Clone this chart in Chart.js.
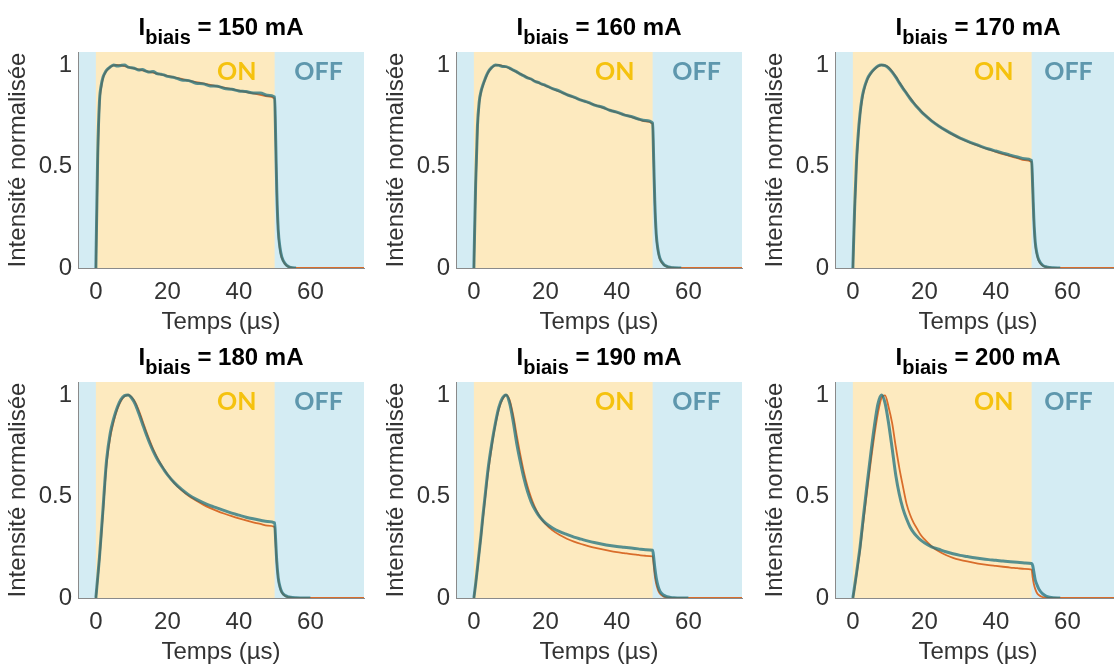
<!DOCTYPE html>
<html lang="fr">
<head>
<meta charset="utf-8">
<script src="https://cdn.jsdelivr.net/npm/chart.js@4.4.1/dist/chart.umd.min.js"></script>
<style>
  html, body { margin: 0; padding: 0; background: #fff; overflow: hidden; }
  body { width: 1114px; height: 666px; position: relative; }
  canvas { position: absolute; }
</style>
</head>
<body>
<script>
// Temps (µs) commun à toutes les courbes
const temps = [0, 0.5, 1, 1.5, 2, 2.5, 3,
  4, 5, 6, 7, 8, 9, 10, 11, 12, 13, 14, 15, 16, 17, 18, 19, 20,
  22, 24, 26, 28, 30, 32, 34, 36, 38, 40, 42, 44, 46, 48, 50,
  50.3, 50.6, 51, 51.5, 52, 53, 54, 55, 56, 58, 60,
  65, 70, 75];

const courants = [150, 160, 170, 180, 190, 200];

// Intensité normalisée mesurée (bleu) et modèle (orange)
const mesure150 = [0, 0.55, 0.82, 0.9, 0.94, 0.96, 0.975,
  0.99, 1.0, 0.995, 0.998, 1.0, 0.99, 0.986, 0.982, 0.975, 0.978, 0.97, 0.965, 0.968, 0.958, 0.955, 0.951, 0.944,
  0.938, 0.926, 0.923, 0.91, 0.907, 0.897, 0.895, 0.884, 0.881, 0.872, 0.869, 0.862, 0.862, 0.851, 0.843,
  0.63, 0.38, 0.19, 0.1, 0.055, 0.02, 0.006, 0.001, 0, null, null,
  null, null, null];
const modele150 = [0, 0.5, 0.8, 0.89, 0.935, 0.958, 0.972,
  0.99, 0.998, 1.0, 0.998, 0.994, 0.99, 0.986, 0.982, 0.978, 0.974, 0.97, 0.966, 0.962, 0.958, 0.954, 0.95, 0.946,
  0.939, 0.931, 0.923, 0.916, 0.909, 0.902, 0.895, 0.888, 0.881, 0.874, 0.867, 0.86, 0.853, 0.846, 0.835,
  0.62, 0.37, 0.18, 0.09, 0.05, 0.018, 0.005, 0.001, 0, 0, 0,
  0, 0, 0];

const mesure160 = [0, 0.42, 0.7, 0.82, 0.87, 0.9, 0.925,
  0.965, 0.988, 1.0, 0.998, 0.993, 0.992, 0.985, 0.975, 0.966, 0.955, 0.946, 0.937, 0.931, 0.92, 0.914, 0.906, 0.9,
  0.884, 0.871, 0.854, 0.842, 0.827, 0.816, 0.801, 0.792, 0.777, 0.768, 0.754, 0.746, 0.734, 0.726, 0.714,
  0.53, 0.33, 0.17, 0.09, 0.05, 0.02, 0.008, 0.003, 0.001, 0, null,
  null, null, null];
const modele160 = [0, 0.4, 0.68, 0.81, 0.865, 0.897, 0.922,
  0.963, 0.987, 0.998, 1.0, 0.996, 0.99, 0.983, 0.974, 0.965, 0.956, 0.947, 0.938, 0.93, 0.921, 0.913, 0.905, 0.898,
  0.883, 0.868, 0.854, 0.84, 0.827, 0.814, 0.802, 0.79, 0.778, 0.766, 0.755, 0.744, 0.733, 0.722, 0.71,
  0.52, 0.32, 0.16, 0.085, 0.045, 0.018, 0.007, 0.002, 0.001, 0, 0,
  0, 0, 0];

const mesure170 = [0, 0.3, 0.52, 0.66, 0.76, 0.83, 0.875,
  0.93, 0.96, 0.98, 0.995, 1.0, 0.997, 0.985, 0.965, 0.94, 0.912, 0.885, 0.86, 0.835, 0.812, 0.792, 0.772, 0.755,
  0.725, 0.7, 0.678, 0.658, 0.64, 0.625, 0.611, 0.598, 0.586, 0.576, 0.566, 0.556, 0.547, 0.538, 0.53,
  0.4, 0.25, 0.13, 0.07, 0.04, 0.015, 0.006, 0.002, 0.001, 0, null,
  null, null, null];
const modele170 = [0, 0.28, 0.5, 0.645, 0.75, 0.82, 0.868,
  0.925, 0.957, 0.978, 0.993, 1.0, 0.998, 0.988, 0.968, 0.943, 0.915, 0.888, 0.862, 0.838, 0.815, 0.794, 0.775, 0.757,
  0.726, 0.7, 0.677, 0.657, 0.639, 0.623, 0.609, 0.596, 0.584, 0.572, 0.561, 0.551, 0.541, 0.531, 0.522,
  0.39, 0.24, 0.12, 0.065, 0.035, 0.013, 0.005, 0.002, 0, 0, 0,
  0, 0, 0];

const mesure180 = [0, 0.1, 0.2, 0.32, 0.44, 0.57, 0.68,
  0.81, 0.885, 0.94, 0.978, 0.997, 1.0, 0.985, 0.955, 0.91, 0.86, 0.81, 0.765, 0.725, 0.69, 0.66, 0.633, 0.608,
  0.567, 0.535, 0.508, 0.487, 0.47, 0.455, 0.443, 0.43, 0.418, 0.408, 0.398, 0.39, 0.383, 0.377, 0.37,
  0.28, 0.18, 0.1, 0.055, 0.03, 0.012, 0.005, 0.002, 0.001, 0, 0,
  null, null, null];
const modele180 = [0, 0.09, 0.19, 0.3, 0.42, 0.55, 0.66,
  0.79, 0.87, 0.93, 0.97, 0.993, 1.0, 0.99, 0.965, 0.925, 0.875, 0.825, 0.778, 0.735, 0.698, 0.665, 0.636, 0.61,
  0.565, 0.53, 0.502, 0.48, 0.46, 0.443, 0.428, 0.415, 0.403, 0.392, 0.382, 0.373, 0.365, 0.357, 0.35,
  0.26, 0.17, 0.095, 0.05, 0.027, 0.01, 0.004, 0.001, 0, 0, 0,
  0, 0, 0];

const mesure190 = [0, 0.07, 0.15, 0.23, 0.31, 0.4, 0.48,
  0.64, 0.76, 0.86, 0.94, 0.985, 1.0, 0.96, 0.87, 0.76, 0.67, 0.59, 0.525, 0.475, 0.438, 0.41, 0.388, 0.37,
  0.345, 0.327, 0.313, 0.3, 0.29, 0.28, 0.272, 0.265, 0.259, 0.254, 0.25, 0.246, 0.242, 0.238, 0.235,
  0.2, 0.15, 0.1, 0.06, 0.035, 0.015, 0.007, 0.003, 0.001, 0, 0,
  null, null, null];
const modele190 = [0, 0.065, 0.14, 0.22, 0.3, 0.385, 0.465,
  0.62, 0.745, 0.85, 0.93, 0.978, 1.0, 0.975, 0.9, 0.8, 0.705, 0.62, 0.55, 0.495, 0.45, 0.415, 0.387, 0.365,
  0.333, 0.31, 0.292, 0.278, 0.266, 0.256, 0.247, 0.239, 0.232, 0.226, 0.221, 0.216, 0.212, 0.208, 0.205,
  0.16, 0.11, 0.07, 0.04, 0.022, 0.008, 0.003, 0.001, 0, 0, 0,
  0, 0, 0];

const mesure200 = [0, 0.06, 0.12, 0.185, 0.25, 0.33, 0.41,
  0.565, 0.71, 0.845, 0.955, 1.0, 0.96, 0.86, 0.735, 0.605, 0.51, 0.44, 0.39, 0.35, 0.322, 0.302, 0.285, 0.272,
  0.252, 0.24, 0.228, 0.218, 0.21, 0.204, 0.198, 0.193, 0.189, 0.186, 0.182, 0.179, 0.176, 0.173, 0.17,
  0.16, 0.13, 0.09, 0.065, 0.045, 0.022, 0.01, 0.004, 0.001, 0, null,
  null, null, null];
const modele200 = [0, 0.05, 0.11, 0.17, 0.235, 0.31, 0.385,
  0.53, 0.67, 0.8, 0.91, 0.985, 0.998, 0.94, 0.86, 0.745, 0.64, 0.55, 0.465, 0.41, 0.37, 0.34, 0.31, 0.29,
  0.255, 0.23, 0.212, 0.198, 0.188, 0.18, 0.173, 0.167, 0.162, 0.158, 0.154, 0.15, 0.147, 0.143, 0.14,
  0.1, 0.07, 0.045, 0.025, 0.015, 0.005, 0.002, 0, 0, 0, 0,
  0, 0, 0];

const mesures = [mesure150, mesure160, mesure170, mesure180, mesure190, mesure200];
const modeles = [modele150, modele160, modele170, modele180, modele190, modele200];

const ticksX = [0, 20, 40, 60];
const ticksY = [0, 0.5, 1];

// Impulsion de polarisation : ON entre 0 et 50 µs
const debutImpulsion = 0;
const finImpulsion = 50;

const POLICE = "'Liberation Sans', Arial, Helvetica, sans-serif";
Chart.defaults.font.family = POLICE;

// Fonds ON (jaune) / OFF (bleu clair) dans la zone du graphe
const pluginFonds = {
    id: 'fonds',
    beforeDraw(chart) {
        const { ctx, chartArea: a, scales: { x } } = chart;
        const x0 = x.getPixelForValue(debutImpulsion);
        const x1 = x.getPixelForValue(finImpulsion);
        ctx.save();
        ctx.fillStyle = '#d4ecf3';
        ctx.fillRect(a.left, a.top, a.right - a.left, a.bottom - a.top);
        ctx.fillStyle = '#fdeabf';
        ctx.fillRect(x0, a.top, x1 - x0, a.bottom - a.top);
        ctx.restore();
    }
};

// Titre avec indice "biais" + étiquettes ON / OFF
const pluginTextes = {
    id: 'textes',
    afterDraw(chart, args, opts) {
        const { ctx, chartArea: a, scales: { x, y } } = chart;
        const suite = ' = ' + opts.courant + ' mA';
        const grand = 'bold 24px ' + POLICE;
        const petit = 'bold 20px ' + POLICE;
        ctx.save();
        ctx.font = grand;
        const wI = ctx.measureText('I').width;
        const wS = ctx.measureText(suite).width;
        ctx.font = petit;
        const wB = ctx.measureText('biais').width;
        let px = (a.left + a.right) / 2 - (wI + wB + wS) / 2;
        ctx.fillStyle = '#000';
        ctx.textBaseline = 'alphabetic';
        ctx.font = grand;
        ctx.fillText('I', px, 35);
        px += wI;
        ctx.font = petit;
        ctx.fillText('biais', px, 44);
        px += wB;
        ctx.font = grand;
        ctx.fillText(suite, px, 35);

        ctx.font = "bold 25px Lato, 'Open Sans', sans-serif";
        ctx.textAlign = 'center';
        ctx.textBaseline = 'middle';
        ctx.fillStyle = '#f5c20e';
        ctx.fillText('ON', x.getPixelForValue(39.4), y.getPixelForValue(0.968));
        ctx.fillStyle = '#5e97ad';
        ctx.fillText('OFF', x.getPixelForValue(opts.xOff), y.getPixelForValue(0.968));
        ctx.restore();
    }
};

function enPoints(valeurs) {
    return temps.map((t, k) => ({ x: t, y: valeurs[k] }));
}

const colonnesX = [0, 378, 757];

courants.forEach((courant, i) => {
    const col = i % 3;
    const lig = Math.floor(i / 3);
    const canvas = document.createElement('canvas');
    canvas.width = 378;
    canvas.height = 340;
    canvas.style.left = colonnesX[col] + 'px';
    canvas.style.top = (lig * 330) + 'px';
    document.body.appendChild(canvas);

    new Chart(canvas, {
        type: 'line',
        data: {
            datasets: [
                {
                    label: 'Mesure',
                    data: enPoints(mesures[i]),
                    borderColor: 'rgba(38, 116, 128, 0.78)',
                    borderWidth: 3,
                    pointRadius: 0,
                    cubicInterpolationMode: 'monotone',
                    order: 0
                },
                {
                    label: 'Modèle',
                    data: enPoints(modeles[i]),
                    borderColor: '#d96d2b',
                    borderWidth: 1.8,
                    pointRadius: 0,
                    cubicInterpolationMode: 'monotone',
                    order: 1
                }
            ]
        },
        options: {
            responsive: false,
            animation: false,
            layout: { padding: { top: 52, right: 14, left: 0, bottom: 0 } },
            plugins: {
                legend: { display: false },
                tooltip: { enabled: false },
                textes: { courant: courant, xOff: col === 2 ? 60.3 : 62.3 }
            },
            scales: {
                x: {
                    type: 'linear',
                    min: -5,
                    max: 75,
                    afterBuildTicks: (s) => { s.ticks = ticksX.map(v => ({ value: v })); },
                    afterFit: (s) => { s.height = 72; },
                    grid: { display: false, drawTicks: false },
                    border: { color: '#8a8a8a', width: 1 },
                    ticks: { font: { size: 24 }, color: '#333', padding: 10, callback: (v) => String(v) },
                    title: { display: true, text: 'Temps (µs)', font: { size: 24 }, color: '#333', padding: { top: 0, bottom: 3 } }
                },
                y: {
                    min: 0,
                    max: 1.064,
                    afterBuildTicks: (s) => { s.ticks = ticksY.map(v => ({ value: v })); },
                    afterFit: (s) => { s.width = 78; },
                    grid: { display: false, drawTicks: false },
                    border: { color: '#8a8a8a', width: 1 },
                    ticks: { font: { size: 24 }, color: '#333', padding: 6, callback: (v) => String(v) },
                    title: { display: true, text: 'Intensité normalisée', font: { size: 24 }, color: '#333', padding: { top: 4, bottom: 0 } }
                }
            }
        },
        plugins: [pluginFonds, pluginTextes]
    });
});
</script>
</body>
</html>
